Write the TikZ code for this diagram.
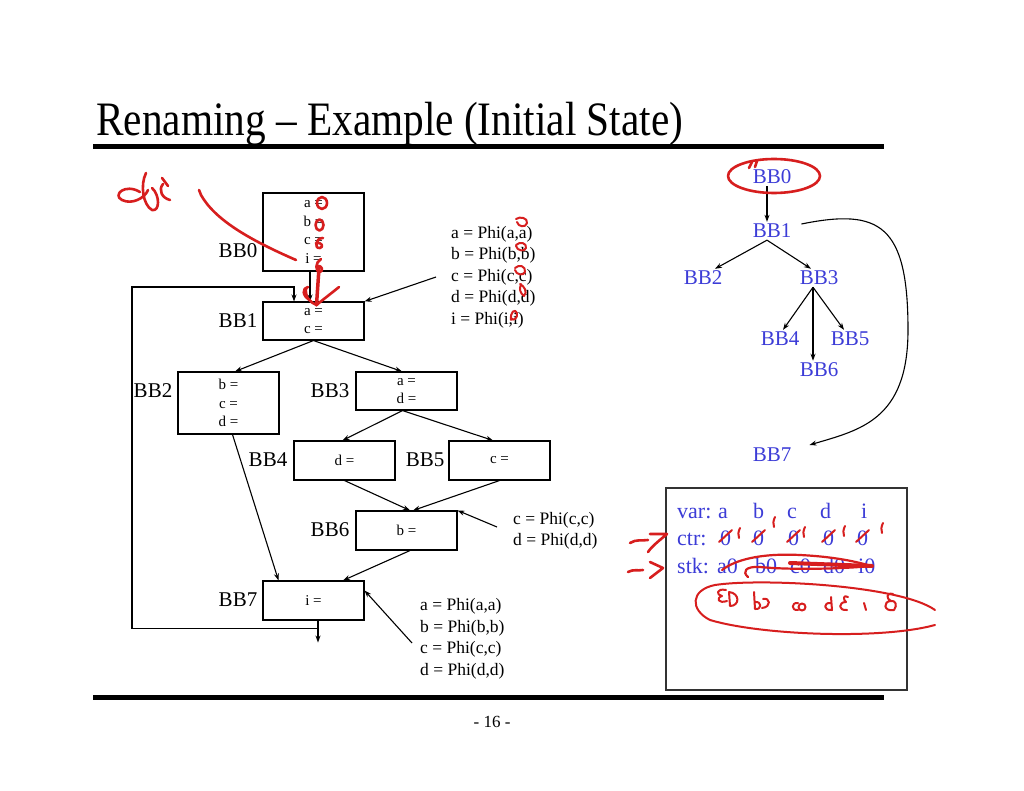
\documentclass[tikz,border=0pt]{standalone}
\usepackage{fontspec}
\setmainfont{Liberation Serif}
\usetikzlibrary{arrows.meta,calc}
\definecolor{tblue}{RGB}{60,60,215}
\definecolor{ink}{RGB}{215,30,30}
\tikzset{
 bbox/.style={draw, line width=1.1pt, minimum width=101pt, inner sep=0pt, align=center, font=\fontsize{15}{18.5}\selectfont},
 lbl/.style={font=\fontsize{21}{24}\selectfont, inner sep=0pt},
 phi/.style={font=\fontsize{17.5}{21.5}\selectfont, align=left, inner sep=0pt, anchor=west},
 arr/.style={line width=1.1pt, -{Stealth[length=7pt,width=5pt]}},
 ln/.style={line width=1.1pt},
 tnode/.style={text=tblue, font=\fontsize{21}{24}\selectfont, inner sep=2pt},
 stx/.style={text=tblue, font=\fontsize{22}{24}\selectfont, inner sep=0pt, anchor=base west},
 pen/.style={draw=ink, line width=2.6pt, line cap=round, line join=round},
}
\begin{document}
\begin{tikzpicture}[x=1pt,y=-1pt]
\useasboundingbox (0,0) rectangle (1024,791);
\fill[white] (0,0) rectangle (1024,791);
% title and rules
\node[anchor=base west, inner sep=0pt, font=\fontsize{48}{50}\selectfont, xscale=0.86] (title) at (96,136) {Renaming -- Example (Initial State)};
\draw[line width=5pt] (93,147) -- (884,147);
\draw[line width=5pt] (93,697) -- (884,697);
\node[font=\fontsize{17}{20}\selectfont, inner sep=0pt] (pg) at (492,722) {- 16 -};
% left CFG boxes
\node[bbox, minimum height=78pt] (b0) at (313.5,232) {a =\\b =\\c =\\i =};
\node[bbox, minimum height=38pt] (b1) at (313.5,321) {a =\\c =};
\node[bbox, minimum height=62pt] (b2) at (228.5,403) {b =\\c =\\d =};
\node[bbox, minimum height=38pt] (b3) at (406.5,391) {a =\\d =};
\node[bbox, minimum height=39pt] (b4) at (344.5,460.5) {d =};
\node[bbox, minimum height=39pt] (b5) at (499.5,460.5) {c =};
\node[bbox, minimum height=39pt] (b6) at (406.5,530.5) {b =};
\node[bbox, minimum height=39pt] (b7) at (313.5,600.5) {i =};
\node[lbl] (l0) at (238,251) {BB0};
\node[lbl] (l1) at (238,321) {BB1};
\node[lbl] (l2) at (153,391) {BB2};
\node[lbl] (l3) at (330,391) {BB3};
\node[lbl] (l4) at (268,460) {BB4};
\node[lbl] (l5) at (425,460) {BB5};
\node[lbl] (l6) at (330,530) {BB6};
\node[lbl] (l7) at (238,600) {BB7};
\node[phi] (p1) at (451,277) {a = Phi(a,a)\\b = Phi(b,b)\\c = Phi(c,c)\\d = Phi(d,d)\\i = Phi(i,i)};
\node[phi] (p2) at (513,531) {c = Phi(c,c)\\d = Phi(d,d)};
\node[phi] (p3) at (420,639) {a = Phi(a,a)\\b = Phi(b,b)\\c = Phi(c,c)\\d = Phi(d,d)};
% left CFG edges
\draw[arr] ([xshift=-3.5pt]b0.south) -- ([xshift=-3.5pt]b1.north);
\draw[arr] (b1.south) -- ([xshift=6.5pt]b2.north);
\draw[arr] (b1.south) -- ([xshift=-4.5pt]b3.north);
\draw[arr] ([xshift=-4pt]b3.south) -- ([xshift=-2pt]b4.north);
\draw[arr] ([xshift=-4pt]b3.south) -- ([xshift=-6.5pt]b5.north);
\draw[arr] (b4.south) -- ([xshift=3.5pt]b6.north);
\draw[arr] (b5.south) -- ([xshift=6.5pt]b6.north);
\draw[arr] ([xshift=3.5pt]b6.south) -- ([xshift=29.5pt]b7.north);
\draw[arr] ([xshift=4pt]b2.south) -- ([xshift=-35pt]b7.north);
\coordinate (exit) at ($(b7.south)+(4.5,22)$);
\draw[arr] ([xshift=4.5pt]b7.south) -- (exit);
\draw[arr] ($(b7.south)+(4.5,8)$) -| (132,287) -| ([xshift=-19.5pt]b1.north);
\draw[arr] ([xshift=-15pt]p1.west) -- (b1.north east);
\draw[arr] ([shift={(-16pt,4pt)}]p2.west) -- (b6.north east);
\draw[arr] ([shift={(-8pt,-4pt)}]p3.west) -- ([yshift=10pt]b7.east);
% dominator tree
\node[tnode] (t0) at (772,177) {BB0};
\node[tnode] (t1) at (772,231) {BB1};
\node[tnode] (t2) at (703,278) {BB2};
\node[tnode] (t3) at (819,278) {BB3};
\node[tnode] (t4) at (780,339) {BB4};
\node[tnode] (t5) at (850,339) {BB5};
\node[tnode] (t6) at (819,370) {BB6};
\node[tnode] (t7) at (772,455) {BB7};
\draw[arr] ([xshift=-5pt]t0.south) -- ([xshift=-5pt]t1.north);
\draw[arr] ([xshift=-5pt]t1.south) -- ([xshift=12pt]t2.north);
\draw[arr] ([xshift=-5pt]t1.south) -- ([xshift=-8pt]t3.north);
\draw[arr] ([xshift=-6pt]t3.south) -- ([xshift=3pt]t4.north);
\draw[arr] ([xshift=-6pt]t3.south) -- ([xshift=-6pt]t6.north);
\draw[arr] ([xshift=-6pt]t3.south) -- ([xshift=-6pt]t5.north);
\draw[arr] ([shift={(8pt,7pt)}]t1.east) .. controls (880,208) and (908,225) .. (908,330) .. controls (908,420) and (860,430) .. ([shift={(16pt,10pt)}]t7.east);
% state box
\draw[line width=1.1pt, draw=black!80] (666,488) rectangle (907,690);
\node[stx] (vr) at (677,518) {var:};
\node[stx] (va) at (718,518) {a};
\node[stx] (vb) at (753,518) {b};
\node[stx] (vc) at (787,518) {c};
\node[stx] (vd) at (820,518) {d};
\node[stx] (vi) at (861,518) {i};
\node[stx] (cr) at (677,545) {ctr:};
\node[stx] (c1) at (720,545) {0};
\node[stx] (c2) at (753,545) {0};
\node[stx] (c3) at (788,545) {0};
\node[stx] (c4) at (823,545) {0};
\node[stx] (c5) at (857,545) {0};
\node[stx] (sr) at (677,573) {stk:};
\node[stx] (s1) at (717,573) {a0};
\node[stx] (s2) at (755,573) {b0};
\node[stx] (s3) at (790,573) {c0};
\node[stx] (s4) at (823,573) {d0};
\node[stx] (s5) at (858,573) {i0};
% handwritten red annotations
\draw[pen] (140,192) .. controls (125,183) and (112,195) .. (122,200) .. controls (132,205) and (145,198) .. (148,190);
\draw[pen] (146,173) .. controls (140,185) and (143,205) .. (152,210) .. controls (160,212) and (160,195) .. (152,188);
\draw[pen] (163,184) .. controls (158,190) and (162,198) .. (170,200);
\draw[pen] (162,178) -- (168,186);
\draw[pen] (199,190) -- (201,195) .. controls (215,220) and (250,240) .. (296,260);
\draw[pen] (322,203) ellipse (5 and 6);
\draw[pen] (319.5,225) ellipse (4 and 5.5);
\draw[pen] (323,238) .. controls (315,238) and (314,249) .. (320,248) .. controls (324,247) and (322,242) .. (316,243);
\draw[pen] (321,259) .. controls (315,262) and (315,272) .. (320,272) .. controls (324,271) and (322,265) .. (317,266);
\draw[pen, line width=3.5pt] (319,268) -- (316.5,305);
\draw[pen] (306,288) .. controls (305,298) and (310,302) .. (316.5,305) .. controls (325,298) and (333,292) .. (339,287);
\draw[pen] (310,300) .. controls (302,296) and (302,288) .. (308,287);
\draw[pen, line width=2pt] (516,219) .. controls (520,216) and (528,218) .. (527,223) .. controls (526,228) and (518,227) .. (517,222);
\draw[pen, line width=2pt] (516,245) .. controls (520,241) and (527,243) .. (526,248) .. controls (525,252) and (517,251) .. (516,246);
\draw[pen, line width=2pt] (515,268) .. controls (519,264) and (526,266) .. (525,272) .. controls (524,276) and (516,275) .. (515,270);
\draw[pen, line width=2pt] (520,284) .. controls (524,286) and (528,292) .. (524,296) .. controls (520,293) and (519,289) .. (521,284);
\draw[pen, line width=2pt] (511,320) .. controls (510,312) and (515,308) .. (517,313) .. controls (518,318) and (513,322) .. (511,318);
\draw[pen] (752,162) -- (749,168);
\draw[pen] (757,161) -- (755,167);
\draw[pen] (774,176) ellipse (46 and 17);
\draw[pen] (630,543) .. controls (636,539) and (642,541) .. (648,540);
\draw[pen] (650,534) -- (667,534) .. controls (660,540) and (652,546) .. (648,552);
\draw[pen] (628,572) .. controls (633,569) and (638,571) .. (643,570);
\draw[pen] (650,562) -- (663,568) -- (650,578);
\foreach \x/\tx/\ty in {719/740/528, 752/775/517, 787/805/527, 822/845/526, 856/883/523}{
  \draw[pen, line width=2pt] (\x,542) -- (\x+13,530);
  \draw[pen, line width=2pt] (\tx,\ty) .. controls (\tx-2,\ty+4) and (\tx-2,\ty+7) .. (\tx-1,\ty+10);
}
\draw[pen, line width=2.2pt] (722,570) .. controls (735,560) and (760,553) .. (800,555) .. controls (840,557) and (860,563) .. (872,566) .. controls (840,569) and (790,570) .. (760,567) .. controls (745,566) and (742,572) .. (748,577);
\draw[pen, line width=4pt] (790,563) -- (872,566);
\draw[pen, line width=2pt] (935,610) .. controls (900,585) and (760,578) .. (715,585) .. controls (690,590) and (690,610) .. (710,620) .. controls (760,635) and (880,640) .. (935,625);
\draw[pen, line width=2pt] (726,590) .. controls (716,588) and (716,595) .. (722,596) .. controls (716,598) and (718,604) .. (727,601);
\draw[pen, line width=2pt] (729,592) -- (730,606) (729,592) .. controls (740,593) and (740,606) .. (730,606);
\draw[pen, line width=2pt] (754,592) -- (755,609) .. controls (762,610) and (762,601) .. (755,602);
\draw[pen, line width=2pt] (763,599) .. controls (770,597) and (772,607) .. (762,608);
\draw[pen, line width=2pt] (798,603) .. controls (791,602) and (791,611) .. (798,610);
\draw[pen, line width=2pt] (802,607) circle (3.5);
\draw[pen, line width=2pt] (831,597) -- (832,610) .. controls (823,611) and (823,602) .. (831,603);
\draw[pen, line width=2pt] (848,597) .. controls (843,594) and (843,600) .. (846,602) .. controls (838,602) and (838,611) .. (847,610);
\draw[pen, line width=2pt] (864,603) -- (866,610);
\draw[pen, line width=2pt] (893,594) .. controls (886,592) and (886,599) .. (891,601) .. controls (883,601) and (883,612) .. (894,610) .. controls (898,605) and (895,600) .. (891,601);
\end{tikzpicture}
\end{document}
